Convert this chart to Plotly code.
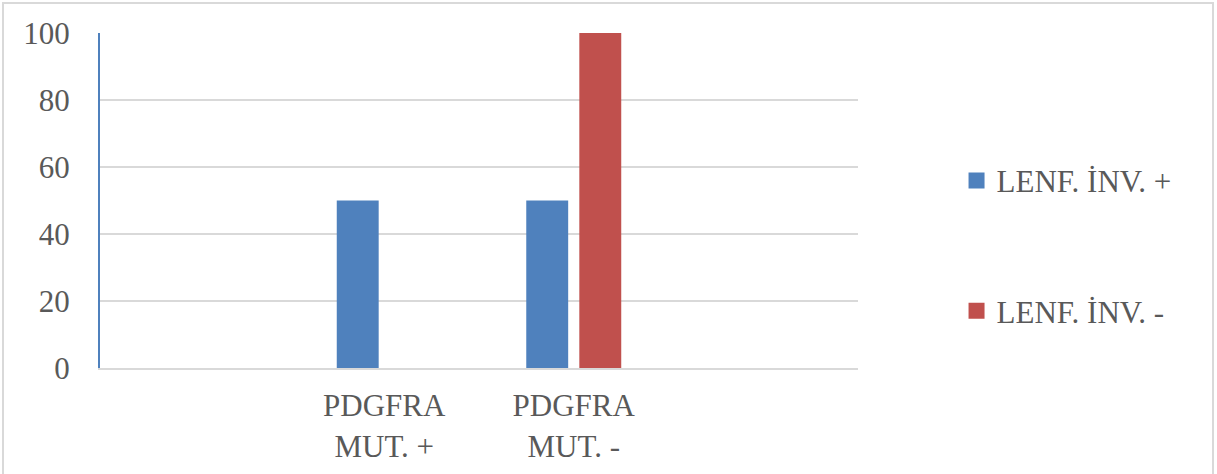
import plotly.graph_objects as go

categories = ["", "PDGFRA<br>MUT. +", "PDGFRA<br>MUT. -", " "]
series_names = ["LENF. İNV. +", "LENF. İNV. -"]
lenf_pos = [None, 50, 50, None]
lenf_neg = [None, 0, 100, None]
colors = ["#4f81bd", "#c0504d"]
y_ticks = [0, 20, 40, 60, 80, 100]

font_family = "Liberation Serif"
text_color = "#595959"

fig = go.Figure()
for name, vals, col, grp in zip(series_names, [lenf_pos, lenf_neg], colors, ["a", "b"]):
    fig.add_trace(go.Bar(
        x=categories, y=vals, name=name, marker_color=col,
        marker_line_width=0, legendgroup=grp, showlegend=False,
    ))
    # legend entry with a larger square swatch
    fig.add_trace(go.Scatter(
        x=[None], y=[None], mode="markers", name=name, legendgroup=grp,
        marker=dict(symbol="square", size=16, color=col, line_width=0),
        hoverinfo="skip",
    ))

fig.update_layout(
    width=1217, height=474,
    margin=dict(l=100, r=359, t=33, b=106),
    paper_bgcolor="white", plot_bgcolor="white",
    barmode="group", bargap=0.44, bargroupgap=0.21,
    font=dict(family=font_family, size=31, color=text_color),
    showlegend=True,
    legend=dict(
        x=1.13, y=0.365, xanchor="left", yanchor="middle",
        traceorder="grouped", tracegroupgap=87,
        font=dict(family=font_family, size=31, color=text_color),
        itemwidth=30, bgcolor="rgba(0,0,0,0)",
    ),
    xaxis=dict(
        type="category", showgrid=False, showline=True,
        linecolor="#d9d9d9", linewidth=2, ticks="",
        ticklabelstandoff=9, automargin=False,
        tickfont=dict(family=font_family, size=31, color=text_color),
    ),
    yaxis=dict(
        range=[0, 100], tickvals=y_ticks, showgrid=True,
        gridcolor="#d9d9d9", gridwidth=2, zeroline=False,
        showline=True, linecolor="#4f81bd", linewidth=2,
        ticks="", ticklen=0, ticklabelstandoff=22, automargin=False,
        tickfont=dict(family=font_family, size=31, color=text_color),
    ),
    shapes=[dict(
        type="rect", xref="paper", yref="paper",
        x0=-97 / 758, x1=(1213 - 100) / 758,
        y0=-110 / 335, y1=1 + 30 / 335,
        line=dict(color="#d9d9d9", width=2), fillcolor="rgba(0,0,0,0)",
        layer="below",
    )],
)

fig.write_html("out.html")
